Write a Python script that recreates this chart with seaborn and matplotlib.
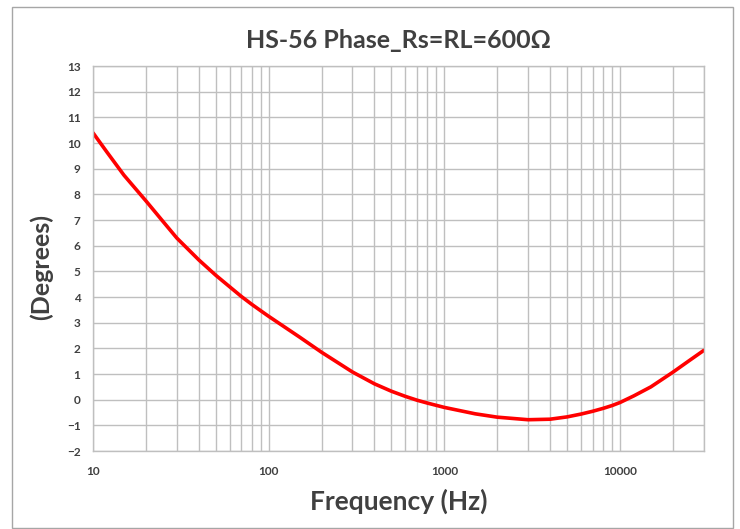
import pandas as pd
import matplotlib
matplotlib.use("Agg")
import matplotlib.pyplot as plt
import seaborn as sns
from matplotlib.ticker import LogLocator, FixedLocator, FixedFormatter, NullFormatter
from matplotlib.patches import Rectangle

# Style
sns.set_style("whitegrid")
plt.rcParams['font.family'] = ['Lato', 'DejaVu Sans']

# data
freq = [10, 12, 15, 20, 25, 30, 40, 50, 60, 70, 80, 90, 100, 150, 200, 300, 400, 500,
        600, 700, 800, 900, 1000, 1500, 2000, 3000, 4000, 5000, 6000, 7000, 8000,
        9000, 10000, 12000, 15000, 20000, 25000, 30000]
phase = [10.4, 9.65, 8.75, 7.75, 6.95, 6.3, 5.45, 4.85, 4.4, 4.02, 3.72, 3.47, 3.25,
         2.44, 1.85, 1.08, 0.62, 0.33, 0.13, -0.02, -0.13, -0.22, -0.3, -0.55, -0.68,
         -0.78, -0.76, -0.67, -0.56, -0.45, -0.34, -0.23, -0.11, 0.15, 0.5, 1.07,
         1.54, 1.92]
x_ticks = [10, 100, 1000, 10000]
x_labels = ["10", "100", "1000", "10000"]
y_ticks = list(range(-2, 14))

df = pd.DataFrame({"freq": freq, "phase": phase})

fig = plt.figure(figsize=(7.4, 5.29), dpi=100)
ax = fig.add_axes([0.1257, 0.1474, 0.951 - 0.1257, 0.875 - 0.1474])

sns.lineplot(data=df, x="freq", y="phase", ax=ax, color="#ff0000", linewidth=2.6)

ax.set_xscale("log")
ax.set_xlim(10, 30000)
ax.set_ylim(-2, 13)
ax.xaxis.set_major_locator(FixedLocator(x_ticks))
ax.xaxis.set_major_formatter(FixedFormatter(x_labels))
ax.xaxis.set_minor_locator(LogLocator(base=10, subs=range(2, 10), numticks=20))
ax.xaxis.set_minor_formatter(NullFormatter())
ax.set_yticks(y_ticks)

grid_col = "#bfbfbf"
ax.grid(True, which="major", color=grid_col, linewidth=1.0)
ax.grid(True, which="minor", axis="x", color=grid_col, linewidth=1.0)
for s in ax.spines.values():
    s.set_color(grid_col)
    s.set_linewidth(1.0)
ax.tick_params(axis="both", which="both", length=0, labelsize=8.5, labelcolor="#404040")
ax.tick_params(axis="x", pad=11)
ax.tick_params(axis="y", pad=9)
for lab in ax.get_xticklabels() + ax.get_yticklabels():
    lab.set_fontweight("bold")

ax.set_title("HS-56 Phase_Rs=RL=600Ω", fontsize=18, fontweight="bold",
             color="#404040", pad=13)
ax.set_xlabel("Frequency (Hz)", fontsize=19, fontweight="bold", color="#404040", labelpad=8)
ax.set_ylabel("(Degrees)", fontsize=18, fontweight="bold", color="#404040")
ax.yaxis.set_label_coords(-0.066, 0.478)

# chart border
fig.patches.append(Rectangle((12 / 740, 1 / 529), 721 / 740, 521 / 529,
                             transform=fig.transFigure, fill=False,
                             edgecolor="#a6a6a6", linewidth=1.0))

fig.savefig("out.png", dpi=100)
